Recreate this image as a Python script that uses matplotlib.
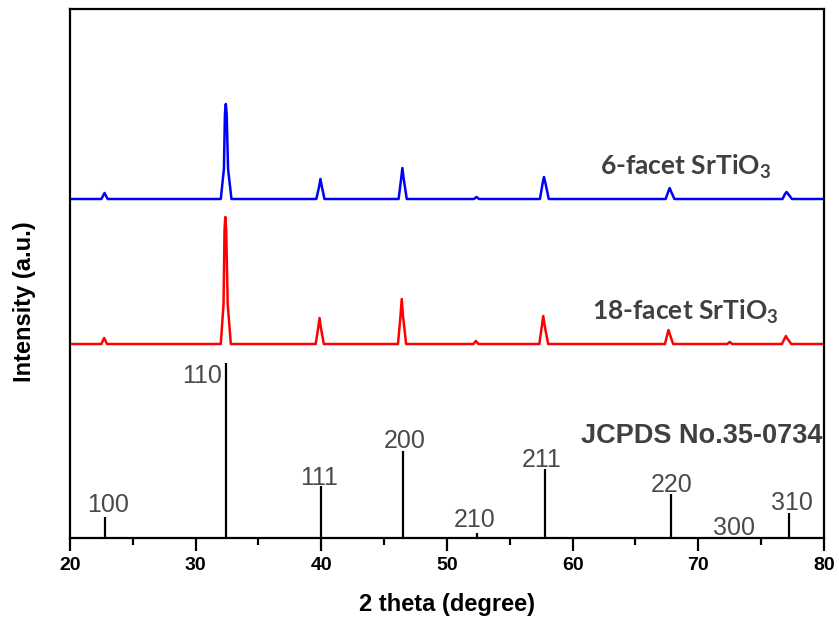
"""XRD patterns of 6-facet and 18-facet SrTiO3 with JCPDS 35-0734 reference sticks."""

import matplotlib

matplotlib.use("Agg")
import matplotlib.pyplot as plt  # noqa: E402

six_x = [20.0, 22.5, 22.75, 23.0,
         32.0, 32.25, 32.33, 32.4, 32.47, 32.58, 32.85,
         39.6, 39.82, 39.93, 40.05, 40.25,
         46.15, 46.35, 46.45, 46.56, 46.8,
         52.15, 52.35, 52.55,
         57.4, 57.6, 57.72, 57.85, 58.1,
         67.4, 67.6, 67.72, 67.85, 68.1,
         76.7, 76.9, 77.02, 77.15, 77.45, 80.0]
six_y = [0, 0, 6, 0,
         0, 30, 85, 95, 85, 30, 0,
         0, 12, 20, 12, 0,
         0, 20, 31, 20, 0,
         0, 2, 0,
         0, 15, 22, 15, 0,
         0, 7, 11, 7, 0,
         0, 5, 7, 5, 0, 0]

eighteen_x = [20.0, 22.5, 22.72, 22.95,
              32.0, 32.22, 32.3, 32.36, 32.43, 32.55, 32.8,
              39.55, 39.75, 39.86, 39.97, 40.2,
              46.1, 46.3, 46.4, 46.5, 46.75,
              52.1, 52.3, 52.5,
              57.35, 57.55, 57.66, 57.78, 58.05,
              67.35, 67.52, 67.63, 67.75, 68.0,
              72.3, 72.5, 72.7,
              76.65, 76.85, 76.97, 77.1, 77.4, 80.0]
eighteen_y = [0, 0, 6, 0,
              0, 40, 115, 127, 115, 40, 0,
              0, 16, 26, 16, 0,
              0, 28, 45, 28, 0,
              0, 3, 0,
              0, 18, 28, 18, 0,
              0, 9, 14, 9, 0,
              0, 2, 0,
              0, 5, 8, 5, 0, 0]

# JCPDS No.35-0734 reference lines
ref_pos = [22.75, 32.4, 39.95, 46.5, 52.35, 57.8, 67.8, 72.5, 77.2]
ref_int = [21, 175, 52, 87, 5, 69, 44, 1, 25]
ref_hkl = ["100", "110", "111", "200", "210", "211", "220", "300", "310"]

SIX_OFFSET = 339
EIGHTEEN_OFFSET = 194

# label anchors (x in degrees, baseline above axis bottom)
hkl_x = [23.02, 32.1, 39.81, 46.66, 52.23, 57.53, 67.9, 72.84, 77.43]
hkl_y = [26, 155, 53, 90, 11, 71, 46, 3, 28]

plt.rcParams["font.family"] = ["Liberation Sans", "DejaVu Sans"]
plt.rcParams["mathtext.default"] = "regular"

fig = plt.figure(figsize=(8.39, 6.23), dpi=100)
ax = fig.add_axes([0.0834, 0.1364, 0.8987, 0.8492])

ax.plot(six_x, [v + SIX_OFFSET for v in six_y], color="#0000ff", lw=1.8,
        solid_joinstyle="round")
ax.plot(eighteen_x, [v + EIGHTEEN_OFFSET for v in eighteen_y], color="#ff0000",
        lw=1.8, solid_joinstyle="round")
ax.vlines(ref_pos, 0, ref_int, color="black", lw=1.6)

for x, y, s in zip(hkl_x, hkl_y, ref_hkl):
    ha = "right" if s == "110" else "center"
    ax.text(x, y, s, ha=ha, va="baseline", fontsize=18, color="#4a4a4a")

ax.text(79.85, 95, "JCPDS No.35-0734", ha="right", va="baseline", fontsize=19.5,
        fontweight="bold", color="#404040")
lbl_font = ["Lato", "DejaVu Sans"]
ax.text(62.17, 363, "6-facet SrTiO$_3$", ha="left", va="baseline", fontsize=19,
        fontweight="bold", color="#404040", family=lbl_font)
ax.text(61.54, 218, "18-facet SrTiO$_3$", ha="left", va="baseline", fontsize=19,
        fontweight="bold", color="#404040", family=lbl_font)

ax.set_xlim(20, 80)
ax.set_ylim(0, 529)
ax.set_xticks([20, 30, 40, 50, 60, 70, 80])
ax.set_xticks([25, 35, 45, 55, 65, 75], minor=True)
ax.set_yticks([])
ax.tick_params(axis="x", which="major", direction="out", length=9, width=1.6,
               labelsize=14, pad=5)
ax.tick_params(axis="x", which="minor", direction="out", length=5, width=1.6)
for lab in ax.get_xticklabels():
    lab.set_fontweight("bold")
for sp in ax.spines.values():
    sp.set_linewidth(1.6)

ax.set_xlabel("2 theta (degree)", fontsize=17, fontweight="bold", labelpad=13)
ax.set_ylabel("Intensity (a.u.)", fontsize=17, fontweight="bold")
ax.yaxis.set_label_coords(-0.045, 0.447)

fig.savefig("out.png", dpi=100)
